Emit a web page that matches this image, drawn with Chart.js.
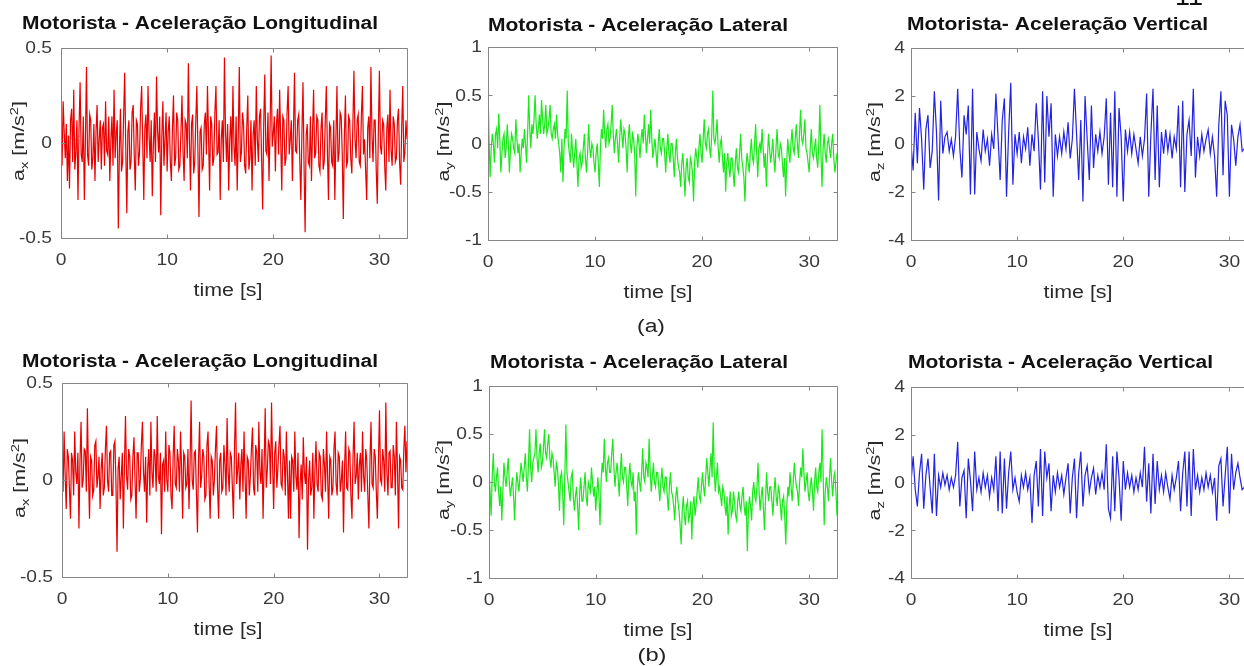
<!DOCTYPE html>
<html>
<head>
<meta charset="utf-8">
<script src="https://cdn.jsdelivr.net/npm/chart.js@4.4.1/dist/chart.umd.min.js"></script>
<style>
  html, body { margin: 0; padding: 0; background: #fff; }
  body { width: 1244px; height: 666px; overflow: hidden; position: relative; }
  canvas { position: absolute; left: 0; top: 0; }
</style>
</head>
<body>
<script>
// Sampling of the recorded accelerations
const fineStep = 0.1;   // s, longitudinal and lateral records
const coarseStep = 0.2; // s, vertical records
const timeMax = 32.6;
const timeTicks = [0, 10, 20, 30];

const axTicks = [-0.5, 0, 0.5];
const ayTicks = [-1, -0.5, 0, 0.5, 1];
const azTicks = [-4, -2, 0, 2, 4];

// (a) driver accelerations [m/s²]
const axA = [
  0.05, -0.12, 0.22, 0.06, -0.08, 0.10, -0.20, 0.04, -0.24, 0.12, 0.18, -0.10, 0.28, -0.14, -0.05, 0.12, -0.30, 0.08, 0.32, -0.06,
  -0.10, 0.14, -0.30, 0.02, 0.40, -0.06, -0.12, 0.15, 0.12, -0.14, -0.08, 0.10, -0.20, 0.06, 0.20, -0.10, 0.02, 0.12, -0.14, 0.08,
  0.10, -0.12, 0.22, -0.04, -0.06, 0.14, -0.20, 0.02, 0.14, -0.12, 0.28, -0.08, 0.05, 0.12, -0.45, -0.05, 0.18, -0.15, -0.10, 0.14,
  0.37, -0.02, -0.37, 0.06, 0.12, -0.14, -0.10, 0.16, 0.20, -0.06, -0.25, 0.12, 0.10, -0.12, -0.05, 0.18, 0.30, 0.00, -0.30, 0.08,
  0.15, -0.08, 0.30, 0.04, -0.10, 0.12, -0.28, -0.02, 0.16, -0.10, 0.35, 0.06, -0.05, 0.14, -0.38, 0.04, 0.22, -0.12, 0.02, 0.16,
  -0.15, 0.06, 0.14, -0.10, -0.20, 0.08, 0.25, -0.12, -0.08, 0.16, 0.12, -0.14, -0.12, 0.06, 0.25, -0.05, -0.20, 0.12, 0.10, -0.08,
  0.42, 0.02, -0.25, 0.10, 0.15, -0.16, -0.10, 0.12, 0.30, -0.04, -0.39, 0.06, 0.08, -0.14, -0.12, 0.10, 0.16, -0.06, 0.30, 0.04,
  -0.25, 0.14, 0.10, -0.12, -0.08, 0.16, 0.30, -0.06, -0.05, 0.12, -0.30, 0.02, 0.12, -0.10, 0.45, 0.06, -0.10, 0.10, -0.25, 0.02,
  0.14, -0.10, 0.30, -0.02, -0.12, 0.14, -0.25, 0.04, 0.40, -0.10, -0.05, 0.16, 0.10, -0.12, -0.16, 0.08, 0.25, -0.14, -0.08, 0.12,
  -0.25, 0.04, 0.12, -0.12, 0.30, 0.02, -0.10, 0.14, 0.18, -0.08, -0.35, 0.10, 0.36, -0.04, -0.06, 0.16, -0.20, 0.08, 0.46, -0.02,
  0.05, 0.14, -0.15, 0.10, 0.18, -0.06, 0.28, 0.02, -0.25, 0.14, 0.12, -0.12, -0.08, 0.16, 0.30, -0.06, 0.02, 0.12, -0.20, 0.06,
  0.37, -0.04, -0.05, 0.12, 0.15, -0.10, -0.30, 0.06, 0.32, -0.12, -0.47, 0.04, 0.10, -0.10, -0.12, 0.14, -0.20, 0.06, 0.28, -0.08,
  -0.05, 0.14, 0.12, -0.12, -0.15, 0.08, 0.16, -0.14, -0.10, 0.12, 0.30, -0.04, -0.30, 0.10, 0.08, -0.10, -0.12, 0.12, -0.30, 0.02,
  0.30, -0.10, -0.05, 0.16, 0.14, -0.06, -0.40, 0.04, 0.25, -0.12, -0.10, 0.14, 0.12, -0.08, -0.16, 0.10, 0.38, 0.02, -0.08, 0.12,
  0.15, -0.10, -0.12, 0.14, 0.30, -0.06, 0.02, -0.14, -0.30, 0.08, 0.14, -0.08, 0.40, 0.04, -0.10, 0.12, 0.12, -0.14, -0.32, 0.06,
  0.38, -0.02, -0.06, 0.12, 0.10, -0.12, -0.25, 0.08, 0.15, -0.10, 0.28, -0.04, -0.12, 0.14, 0.10, -0.10, -0.08, 0.12, 0.18, -0.10,
  -0.22, 0.08, 0.30, -0.10, -0.05, 0.12, 0.02
];

const ayA = [
  0.60, 0.05, -0.35, -0.05, 0.10, 0.00, -0.20, 0.10, 0.15, -0.05, 0.31, 0.05, -0.30, -0.10, 0.05, 0.10, -0.15, -0.05, 0.20, 0.00,
  -0.30, -0.05, 0.10, 0.05, -0.05, -0.10, 0.25, 0.05, -0.10, 0.00, -0.30, -0.10, 0.05, -0.05, 0.15, 0.00, -0.20, 0.10, 0.50, 0.15,
  -0.05, 0.20, 0.10, 0.25, 0.50, 0.20, 0.05, 0.15, 0.30, 0.10, 0.45, 0.25, 0.10, 0.20, 0.40, 0.10, 0.15, 0.25, 0.40, 0.10,
  0.05, 0.15, 0.20, 0.05, 0.30, 0.10, 0.00, -0.10, -0.30, 0.05, -0.40, -0.05, 0.15, 0.05, 0.55, 0.00, -0.10, -0.20, 0.10, -0.10,
  -0.25, -0.10, 0.05, -0.20, -0.45, -0.15, -0.10, -0.25, -0.20, -0.05, 0.10, -0.15, -0.30, -0.10, 0.20, -0.05, -0.15, 0.00, -0.05, -0.20,
  -0.30, -0.10, 0.00, -0.20, -0.45, -0.05, 0.15, 0.05, 0.35, 0.10, -0.05, 0.15, 0.20, 0.00, 0.05, 0.20, 0.40, 0.10, -0.10, 0.05,
  0.15, 0.00, -0.20, 0.05, 0.25, 0.10, -0.05, 0.15, 0.10, -0.05, -0.30, 0.05, 0.20, 0.00, -0.10, 0.10, 0.05, -0.10, -0.55, -0.05,
  0.10, 0.00, -0.15, 0.05, 0.15, 0.00, 0.30, 0.10, -0.10, 0.05, 0.20, 0.00, 0.35, 0.05, -0.15, -0.05, 0.05, -0.10, -0.25, 0.00,
  0.15, -0.05, -0.10, 0.05, 0.05, -0.10, -0.30, -0.05, 0.10, -0.10, -0.20, 0.00, 0.00, -0.15, -0.35, -0.10, 0.05, -0.15, -0.25, -0.30,
  -0.45, -0.20, -0.10, -0.30, -0.55, -0.25, -0.15, -0.35, -0.40, -0.15, -0.20, -0.30, -0.60, -0.20, -0.05, -0.15, -0.25, -0.05, 0.10, -0.10,
  -0.20, 0.05, 0.25, 0.00, -0.05, 0.10, 0.15, -0.05, -0.15, 0.10, 0.55, 0.05, 0.00, 0.10, 0.25, -0.05, -0.20, 0.00, 0.05, -0.15,
  -0.30, -0.10, -0.50, -0.20, -0.10, -0.25, -0.35, -0.15, -0.15, -0.30, -0.45, -0.20, -0.05, -0.25, -0.30, -0.10, 0.10, -0.15, -0.25, -0.35,
  -0.60, -0.25, -0.10, -0.20, -0.30, -0.10, 0.05, -0.15, -0.20, 0.00, 0.20, -0.10, -0.35, -0.05, 0.00, -0.10, 0.15, -0.05, -0.25, -0.10,
  -0.45, -0.15, 0.10, -0.05, -0.20, -0.10, 0.05, -0.15, -0.30, -0.05, 0.15, -0.10, -0.15, 0.00, -0.05, -0.20, -0.35, -0.15, -0.55, -0.20,
  0.05, -0.10, -0.20, 0.00, 0.15, -0.05, -0.10, 0.05, 0.20, 0.00, -0.15, 0.10, 0.35, 0.05, 0.00, 0.10, 0.25, -0.05, -0.10, -0.20,
  -0.30, -0.05, 0.15, -0.10, -0.15, -0.05, 0.05, -0.15, -0.25, 0.00, 0.40, -0.10, -0.45, -0.05, 0.10, -0.10, -0.20, 0.00, 0.05, -0.05,
  -0.15, 0.00, 0.10, -0.15, -0.30, -0.20, -0.10
];

const azA = [
  0.0, -1.1, 1.3, -0.8, 1.5, 0.2, -1.9, 0.6, 1.2, -1.0,
  -0.3, 2.2, 0.5, -2.35, 1.8, -0.4, 0.3, 0.5, -0.3, 0.2,
  -0.5, 0.3, 2.3, -0.2, -1.4, 1.2, 0.4, 1.6, -2.1, 2.3,
  -2.1, 0.5, -0.2, -0.7, 0.6, -0.3, 0.2, -0.9, 0.4, -0.2,
  2.1, 0.3, -1.5, 1.0, 1.9, -2.2, 0.5, 2.55, -1.7, 0.4,
  -0.4, 0.5, -0.8, 0.3, -0.2, 0.7, -0.9, 0.4, -0.3, 1.7,
  0.2, -1.9, 2.2, -1.6, 2.0, 0.3, 1.7, -2.2, 0.4, -0.5,
  0.3, -0.4, 0.5, -0.2, 0.9, -0.6, 0.2, 2.3, 0.4, -1.5,
  1.0, -2.4, 2.0, 0.2, -1.5, 1.6, -1.0, 0.4, -0.3, 0.5,
  -0.4, 0.3, 1.9, -1.7, 1.3, -1.8, 2.2, -2.2, 1.5, 0.3,
  -2.4, 0.6, -0.3, 0.5, -0.4, 0.4, -0.2, -0.8, 0.3, -0.5,
  0.2, 2.1, -2.2, 0.4, 2.3, -1.5, 1.6, -1.8, 0.5, -0.4,
  0.6, -0.3, 0.4, -0.6, 0.3, -0.2, 1.6, -1.8, 1.8, -2.0,
  0.4, 1.0, -0.5, 2.3, -1.4, 0.3, -0.5, 0.4, -0.3, 0.2,
  0.6, -0.4, 0.3, -0.5, -2.2, 0.8, 2.2, -1.3, 1.8, 1.2,
  -2.2, 0.8, 0.2, -0.9, 0.3, 0.8, -0.3, -0.2, 0.3, -0.4,
  0.2, -0.3, 0.1, -0.2
];

// (b) driver accelerations [m/s²]
const axB = [
  0.08, -0.06, 0.25, 0.02, -0.15, 0.16, 0.12, -0.04, -0.20, 0.14, 0.10, -0.08, 0.25, 0.04, -0.02, 0.14, -0.25, 0.10, 0.30, -0.04,
  0.00, 0.16, 0.15, -0.06, 0.37, 0.04, -0.20, 0.12, 0.10, -0.08, -0.05, 0.18, 0.20, -0.04, 0.02, 0.12, -0.15, 0.06, 0.14, -0.08,
  -0.04, 0.16, 0.28, 0.00, -0.06, 0.14, 0.15, -0.08, -0.08, 0.18, 0.20, -0.02, -0.37, 0.06, 0.12, -0.10, 0.02, 0.14, -0.25, 0.08,
  0.33, 0.02, -0.05, 0.16, 0.12, -0.10, -0.08, 0.12, 0.22, 0.00, -0.20, 0.14, 0.14, -0.06, 0.00, 0.18, 0.30, 0.04, -0.06, 0.12,
  -0.22, 0.06, 0.16, -0.08, 0.30, 0.04, -0.04, 0.16, 0.12, -0.06, 0.33, 0.02, -0.02, 0.14, -0.28, 0.08, 0.10, -0.06, 0.25, 0.00,
  -0.06, 0.18, 0.14, -0.08, -0.15, 0.12, 0.28, -0.02, -0.04, 0.16, 0.10, -0.06, 0.25, 0.06, -0.20, 0.14, 0.12, -0.04, -0.02, 0.16,
  -0.15, 0.08, 0.41, 0.00, -0.05, 0.14, 0.15, -0.06, -0.27, 0.10, 0.30, -0.04, 0.02, 0.16, 0.12, -0.10, -0.08, 0.18, 0.25, -0.02,
  -0.20, 0.12, 0.10, -0.08, 0.00, 0.16, 0.28, -0.04, -0.20, 0.10, 0.14, -0.06, -0.04, 0.18, 0.08, -0.08, 0.32, 0.04, -0.06, 0.14,
  0.12, -0.04, -0.20, 0.16, 0.40, -0.02, 0.05, 0.14, -0.10, 0.08, 0.16, -0.06, 0.25, 0.02, -0.20, 0.12, 0.10, -0.08, 0.02, 0.16,
  0.27, -0.04, -0.08, 0.18, 0.14, -0.06, 0.30, 0.04, -0.02, 0.16, -0.20, 0.08, 0.37, -0.04, 0.05, 0.20, 0.18, -0.02, 0.40, 0.08,
  -0.15, 0.14, 0.20, -0.04, 0.06, 0.18, 0.28, -0.02, -0.04, 0.16, 0.12, -0.08, 0.25, 0.04, -0.20, 0.10, -0.20, 0.12, 0.10, -0.06,
  0.25, 0.02, -0.05, 0.14, -0.30, -0.02, 0.08, -0.10, 0.22, 0.04, -0.02, 0.12, -0.36, 0.00, 0.10, -0.08, -0.04, 0.14, -0.20, 0.06,
  0.20, -0.02, -0.06, 0.14, 0.12, -0.08, -0.10, 0.16, 0.08, -0.06, 0.25, 0.02, -0.20, 0.12, 0.10, -0.08, -0.04, 0.16, 0.25, -0.02,
  -0.08, 0.14, 0.12, -0.06, 0.00, 0.10, -0.27, 0.06, 0.25, -0.04, -0.05, 0.16, 0.14, -0.08, -0.20, 0.12, 0.30, -0.02, 0.02, 0.14,
  -0.10, 0.08, 0.14, -0.06, 0.25, 0.02, -0.06, 0.16, 0.10, -0.08, -0.25, 0.10, 0.30, -0.02, -0.04, 0.16, 0.12, -0.06, -0.20, 0.10,
  0.36, 0.00, -0.02, 0.16, 0.10, -0.06, 0.40, 0.04, -0.08, 0.14, 0.15, -0.04, -0.04, 0.18, 0.12, -0.08, 0.30, 0.06, -0.25, 0.12,
  0.10, -0.04, -0.05, 0.16, 0.28, 0.04, 0.20
];

const ayB = [
  0.10, -0.10, -0.35, 0.05, 0.30, 0.00, -0.10, 0.05, 0.15, -0.10, -0.25, -0.05, -0.40, -0.10, 0.20, 0.05, -0.05, 0.10, 0.25, 0.00,
  -0.15, -0.05, 0.05, -0.15, -0.40, -0.10, 0.10, 0.00, -0.10, 0.05, 0.20, 0.10, 0.00, 0.15, 0.30, 0.05, -0.10, 0.20, 0.55, 0.15,
  0.00, 0.20, 0.25, 0.30, 0.55, 0.25, 0.10, 0.30, 0.40, 0.15, 0.20, 0.35, 0.55, 0.30, 0.25, 0.40, 0.50, 0.25, 0.15, 0.30,
  0.25, 0.10, -0.05, 0.20, 0.15, 0.00, -0.30, 0.05, 0.10, -0.10, -0.45, 0.05, 0.60, 0.10, 0.00, -0.10, -0.20, 0.05, 0.10, -0.15,
  -0.30, -0.15, -0.05, -0.25, -0.50, -0.10, 0.05, -0.20, -0.20, -0.05, 0.10, -0.15, -0.25, 0.00, -0.05, -0.10, 0.15, 0.00, -0.15, -0.05,
  -0.30, -0.10, 0.05, -0.15, -0.45, 0.00, 0.20, 0.10, 0.45, 0.15, 0.00, 0.20, 0.25, 0.10, 0.10, 0.30, 0.45, 0.15, -0.05, 0.10,
  0.20, 0.05, -0.15, 0.10, 0.30, 0.05, 0.00, 0.15, 0.15, -0.05, -0.25, 0.05, 0.20, 0.00, -0.05, 0.10, -0.20, -0.10, -0.55, -0.05,
  0.10, 0.00, -0.10, 0.10, 0.35, 0.05, 0.00, 0.20, 0.15, 0.05, 0.45, 0.10, -0.10, 0.05, 0.20, 0.00, -0.05, 0.10, 0.10, -0.05,
  -0.20, 0.00, 0.15, -0.05, -0.10, 0.05, 0.05, -0.15, -0.30, -0.05, 0.10, -0.10, -0.15, -0.25, -0.40, -0.15, -0.05, -0.20, -0.30, -0.45,
  -0.65, -0.30, -0.15, -0.35, -0.45, -0.25, -0.20, -0.40, -0.35, -0.20, -0.60, -0.25, -0.15, -0.35, -0.25, -0.10, 0.05, -0.15, -0.20, -0.05,
  0.10, -0.05, -0.15, 0.05, 0.25, 0.10, -0.05, 0.15, 0.30, 0.05, 0.62, 0.10, -0.10, 0.05, 0.20, -0.10, -0.05, -0.15, -0.25, -0.05,
  -0.10, -0.25, -0.35, -0.15, -0.55, -0.25, -0.10, -0.35, -0.30, -0.10, -0.20, -0.35, -0.40, -0.20, -0.10, -0.25, -0.30, -0.15, -0.05, -0.25,
  -0.35, -0.20, -0.72, -0.30, -0.15, -0.25, -0.40, -0.10, 0.00, -0.15, -0.20, -0.05, 0.20, -0.10, -0.30, -0.15, -0.05, -0.25, -0.50, -0.20,
  0.10, -0.10, -0.20, -0.05, -0.05, -0.20, -0.35, -0.10, 0.05, -0.15, -0.25, -0.05, -0.10, -0.25, -0.40, -0.20, -0.15, -0.35, -0.65, -0.25,
  -0.05, -0.15, 0.10, -0.05, -0.20, 0.00, 0.20, 0.05, -0.05, -0.10, -0.25, 0.00, 0.15, 0.05, 0.35, 0.10, -0.10, 0.00, 0.10, -0.10,
  -0.20, -0.05, 0.05, -0.10, -0.30, 0.00, 0.15, -0.05, -0.10, 0.10, 0.20, 0.00, 0.55, 0.10, -0.45, -0.10, 0.05, -0.05, -0.20, 0.05,
  0.25, 0.00, -0.15, 0.05, 0.10, -0.10, -0.35
];

const azB = [
  0.0, 1.1, -0.3, -1.0, 0.4, 1.2, -1.1, 0.3, 1.0, -0.2,
  -1.3, 1.2, -1.4, 0.3, -0.2, 0.4, -0.1, 0.3, -0.3, 0.2,
  -0.2, 0.3, 1.7, -1.0, 0.2, 0.5, -1.5, 1.0, 0.1, -1.2,
  1.3, -0.3, 0.2, -0.4, 0.4, -0.2, 0.3, -0.6, 0.2, -0.3,
  1.1, -1.2, 1.3, -1.3, 1.0, -1.1, 0.4, 1.3, -0.3, 0.2,
  -0.4, -0.8, 0.3, -0.2, 0.4, -0.3, 0.2, -1.7, 0.3, 0.9,
  -1.0, 1.4, -1.4, 1.3, 0.2, 0.8, -1.2, 0.3, -0.4, 0.4,
  -0.2, 0.3, -0.5, 0.2, 0.8, -1.3, 0.2, 1.0, -1.5, 0.4,
  1.3, -1.0, 0.3, 0.7, -0.4, 0.2, 0.6, -0.5, 0.3, -0.2,
  0.4, -0.3, 1.6, -1.1, -1.5, 1.1, -1.2, 1.3, 0.2, -1.6,
  0.9, -0.3, 0.4, -0.2, 0.3, -0.4, 0.2, -0.3, 0.4, -0.2,
  1.5, -0.8, 0.8, -1.3, 1.2, -0.9, 0.9, -0.3, 0.3, -0.4,
  0.4, -0.2, -0.7, 0.3, -0.3, 0.2, 0.9, -1.2, 0.4, 1.3,
  -1.0, 1.3, -1.4, 1.4, -0.3, 0.3, -0.4, 0.2, -0.3, 0.4,
  -0.2, 0.3, -0.4, 0.2, -1.6, 0.7, 1.0, -1.0, 0.3, 1.5,
  -1.3, 1.2, -0.3, 0.4, 0.8, 0.2, -0.3, -0.2, 0.3, -0.2,
  0.2, -0.3, 0.1, -0.1
];

const FONT = '"Liberation Sans", Arial, Helvetica, sans-serif';
const RED = "rgb(235, 0, 0)";
const GREEN = "rgb(25, 232, 25)";
const BLUE = "rgb(35, 35, 225)";

// one subplot per entry: box = [left, top, right, bottom] in page pixels
const panels = [
  { values: axA, step: fineStep, color: RED, width: 1.2, yTicks: axTicks, box: [61, 48, 407, 238],
    title: "Motorista - Aceleração Longitudinal", titleX: 22, titleY: 29, titleW: 356,
    sub: "x", labelX: 24, xLabelX: 228, tickGap: 9 },
  { values: ayA, step: fineStep, color: GREEN, width: 1.2, yTicks: ayTicks, box: [488, 47, 837, 240],
    title: "Motorista - Aceleração Lateral", titleX: 488, titleY: 31, titleW: 300,
    sub: "y", labelX: 449, xLabelX: 658, tickGap: 6 },
  { values: azA, step: coarseStep, color: BLUE, width: 1.2, yTicks: azTicks, box: [911, 48, 1257, 240],
    title: "Motorista- Aceleração Vertical", titleX: 907, titleY: 30, titleW: 301,
    sub: "z", labelX: 880, xLabelX: 1078, tickGap: 6 },
  { values: axB, step: fineStep, color: RED, width: 1.2, yTicks: axTicks, box: [62, 383, 407, 577],
    title: "Motorista - Aceleração Longitudinal", titleX: 22, titleY: 367, titleW: 356,
    sub: "x", labelX: 25, xLabelX: 228, tickGap: 9 },
  { values: ayB, step: fineStep, color: GREEN, width: 1.2, yTicks: ayTicks, box: [489, 386, 837, 578],
    title: "Motorista - Aceleração Lateral", titleX: 490, titleY: 368, titleW: 298,
    sub: "y", labelX: 449, xLabelX: 658, tickGap: 6 },
  { values: azB, step: coarseStep, color: BLUE, width: 1.2, yTicks: azTicks, box: [911, 387, 1257, 578],
    title: "Motorista - Aceleração Vertical", titleX: 908, titleY: 368, titleW: 305,
    sub: "z", labelX: 880, xLabelX: 1078, tickGap: 6 },
];

const CANVAS_W = 1280;
const CANVAS_H = 666;

// draw text squeezed/stretched horizontally by factor k
function drawScaled(ctx, text, x, y, k, align) {
  ctx.save();
  ctx.translate(x, y);
  ctx.scale(k, 1);
  ctx.textAlign = align;
  ctx.fillText(text, 0, 0);
  ctx.restore();
}

function drawFitted(ctx, text, x, y, width, align) {
  const k = width / ctx.measureText(text).width;
  drawScaled(ctx, text, x, y, k, align);
}

// rotated "a_x [m/s²]" label with sub- and superscript
function drawYLabel(ctx, sub, baseX, centerY, length) {
  const main = "16px " + FONT;
  const small = "11px " + FONT;
  const parts = [
    { t: "a", f: main, dy: 0 },
    { t: sub, f: small, dy: 4 },
    { t: " [m/s", f: main, dy: 0 },
    { t: "2", f: small, dy: -6 },
    { t: "]", f: main, dy: 0 },
  ];
  let total = 0;
  parts.forEach((p) => {
    ctx.font = p.f;
    p.w = ctx.measureText(p.t).width;
    total += p.w;
  });
  ctx.save();
  ctx.translate(baseX, centerY);
  ctx.rotate(-Math.PI / 2);
  ctx.scale(length / total, 1);
  ctx.textAlign = "left";
  ctx.textBaseline = "alphabetic";
  let cx = -total / 2;
  parts.forEach((p) => {
    ctx.font = p.f;
    ctx.fillText(p.t, cx, p.dy);
    cx += p.w;
  });
  ctx.restore();
}

// MATLAB-like frame: box, inward ticks, tick labels, title and axis labels
const matlabFrame = {
  id: "matlabFrame",
  afterDraw(chart, args, opts) {
    const p = opts.panel;
    const { ctx, chartArea: a } = chart;
    const xs = chart.scales.x;
    const ys = chart.scales.y;
    const L = Math.round(a.left) + 0.5;
    const T = Math.round(a.top) + 0.5;
    const R = Math.round(a.right) + 0.5;
    const B = Math.round(a.bottom) + 0.5;

    ctx.save();
    ctx.strokeStyle = "#858585";
    ctx.lineWidth = 1;
    ctx.beginPath();
    ctx.rect(L, T, R - L, B - T);
    timeTicks.forEach((v) => {
      const px = Math.round(xs.getPixelForValue(v)) + 0.5;
      ctx.moveTo(px, B);
      ctx.lineTo(px, B - 4);
      ctx.moveTo(px, T);
      ctx.lineTo(px, T + 4);
    });
    p.yTicks.forEach((v) => {
      const py = Math.round(ys.getPixelForValue(v)) + 0.5;
      ctx.moveTo(L, py);
      ctx.lineTo(L + 4, py);
      ctx.moveTo(R, py);
      ctx.lineTo(R - 4, py);
    });
    ctx.stroke();

    // tick labels
    ctx.fillStyle = "#3a3a3a";
    ctx.font = "16px " + FONT;
    ctx.textBaseline = "middle";
    timeTicks.forEach((v) => {
      drawScaled(ctx, String(v), xs.getPixelForValue(v), a.bottom + 23, 1.2, "center");
    });
    p.yTicks.forEach((v) => {
      drawScaled(ctx, String(v), a.left - p.tickGap, ys.getPixelForValue(v) + 1, 1.2, "right");
    });

    // x label
    ctx.fillStyle = "#2a2a2a";
    ctx.font = "18px " + FONT;
    drawFitted(ctx, "time [s]", p.xLabelX, a.bottom + 53, 69, "center");

    // y label
    drawYLabel(ctx, p.sub, p.labelX, (a.top + a.bottom) / 2 - 2, 80);

    // title
    ctx.fillStyle = "#111";
    ctx.font = "bold 18px " + FONT;
    ctx.textBaseline = "alphabetic";
    drawFitted(ctx, p.title, p.titleX, p.titleY, p.titleW, "left");
    ctx.restore();
  },
};

panels.forEach((p) => {
  const canvas = document.createElement("canvas");
  canvas.width = CANVAS_W;
  canvas.height = CANVAS_H;
  document.body.appendChild(canvas);

  const [left, top, right, bottom] = p.box;
  new Chart(canvas.getContext("2d"), {
    type: "line",
    data: {
      datasets: [
        {
          data: p.values.map((v, i) => ({ x: i * p.step, y: v })),
          borderColor: p.color,
          borderWidth: p.width,
          pointRadius: 0,
          tension: 0,
          fill: false,
        },
      ],
    },
    options: {
      responsive: false,
      animation: false,
      events: [],
      parsing: false,
      layout: {
        padding: {
          left: left,
          top: top,
          right: CANVAS_W - right,
          bottom: CANVAS_H - bottom,
        },
      },
      plugins: {
        legend: { display: false },
        tooltip: { enabled: false },
        matlabFrame: { panel: p },
      },
      scales: {
        x: { type: "linear", min: 0, max: timeMax, display: false },
        y: { min: p.yTicks[0], max: p.yTicks[p.yTicks.length - 1], display: false },
      },
    },
    plugins: [matlabFrame],
  });
});

// figure captions and the page number at the top edge
const cap = document.createElement("canvas");
cap.width = CANVAS_W;
cap.height = CANVAS_H;
document.body.appendChild(cap);
const cctx = cap.getContext("2d");
cctx.fillStyle = "#222";
cctx.font = "18px " + FONT;
cctx.textBaseline = "middle";
drawFitted(cctx, "(a)", 651, 327, 28, "center");
drawFitted(cctx, "(b)", 652, 656, 29, "center");
cctx.fillStyle = "#111";
cctx.font = "27px " + FONT;
cctx.textBaseline = "alphabetic";
cctx.fillText("11", 1175, 5);
</script>
</body>
</html>
